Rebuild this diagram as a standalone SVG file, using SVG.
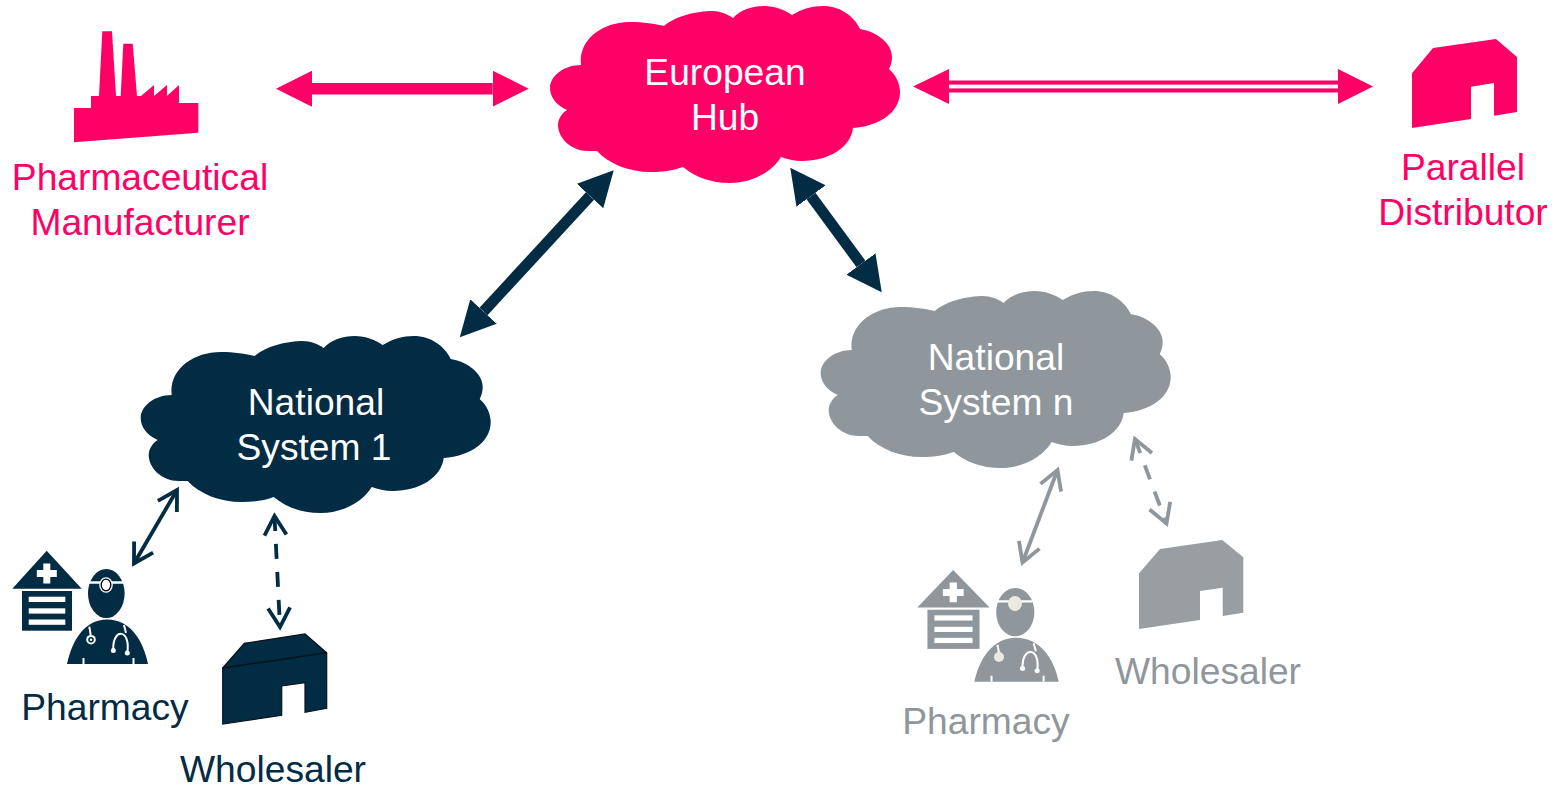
<svg xmlns="http://www.w3.org/2000/svg" width="1558" height="787" viewBox="0 0 1558 787">
<style>
text{font-family:"Liberation Sans",Arial,sans-serif;font-size:37.2px;text-anchor:middle}
.pink{fill:#ff0066}.navy{fill:#022b44}.grey{fill:#8f969c}.white{fill:#fff}
.lgrey{fill:#999ea3}
.thick{stroke:#022b44;stroke-width:11;fill:none}
.thinN{stroke:#022b44;stroke-width:3.8;fill:none}
.thinG{stroke:#8f969c;stroke-width:3.8;fill:none}
.dash{stroke-dasharray:15 13}
.steth{stroke:#fff;stroke-width:2;fill:none}
</style>
<defs>
<path id="cloud" d="M41 65C38 40 62 22 90 22C103 22 115 24 124 26C135 16 158 11 172 11C180 11 187 14 193 18C200 10 212 6 224 6C235 6 245 10 252 15C262 9 272 6 283 6C300 6 314 16 320 29C338 32 352 44 352 57C352 61 351 65 349 69C356 75 360 84 360 92C360 112 340 126 313 128C311 147 289 161 262 161C254 161 247 159 241 157C232 172 212 183 190 183C171 183 155 177 143 167C132 171 122 172 111 172C89 172 69 164 57 151C53 151 50 151 48 151C31 151 18 138 18 125C18 119 22 113 27 110C16 105 10 97 10 88C10 76 24 65 41 65Z"/>
<g id="pharm">
<path d="M12.300 588.700L46.700 550.700L81.700 588.700Z"/>
<rect x="22" y="591" width="50" height="39.700"/>
<path class="white" d="M43.300 563.500h7v6.500h6.500v7h-6.500v6.500h-7v-6.500h-6.500v-7h6.500z"/>
<rect class="white" x="28.700" y="596.700" width="36.600" height="5.300"/>
<rect class="white" x="28.700" y="608.300" width="36.600" height="5.300"/>
<rect class="white" x="28.700" y="619.500" width="36.600" height="5.300"/>
<ellipse cx="106.300" cy="593.500" rx="18.300" ry="24.500"/>
<path class="steth" style="stroke-width:2.400" d="M89 582.500H123"/>
<path d="M67 664C72 640 85 619.500 107 619.500C130 619.500 143 640 148 664Z"/>
<path class="steth" d="M83.500 658V664M133.500 658V664M89.300 626.700L90.700 635M124 625L126 633M113.300 650C112 628 131 628 127.300 653"/>
<circle class="white" cx="113.300" cy="650.500" r="2.500"/>
<circle class="white" cx="127.300" cy="653" r="2.500"/>
</g>
<marker id="hN" markerUnits="userSpaceOnUse" markerWidth="36" markerHeight="36" refX="0" refY="18" orient="auto-start-reverse" viewBox="0 0 36 36"><path class="navy" d="M0 0L35 18L0 36Z"/></marker>
<marker id="hP" markerUnits="userSpaceOnUse" markerWidth="37" markerHeight="37" refX="0" refY="18" orient="auto-start-reverse" viewBox="0 0 37 37"><path class="pink" d="M0 0L36 18L0 36Z"/></marker>
<marker id="oN" markerUnits="userSpaceOnUse" markerWidth="30" markerHeight="30" refX="21" refY="14" orient="auto-start-reverse" viewBox="0 0 30 30"><path d="M2 3L21 14L2 25" stroke="#022b44" stroke-width="3.800" fill="none"/></marker>
<marker id="oG" markerUnits="userSpaceOnUse" markerWidth="30" markerHeight="30" refX="21" refY="14" orient="auto-start-reverse" viewBox="0 0 30 30"><path d="M2 3L21 14L2 25" stroke="#8f969c" stroke-width="3.800" fill="none"/></marker>
</defs>

<g id="connectors">
<line x1="312" y1="88.700" x2="492.700" y2="88.700" stroke="#ff0066" stroke-width="11.500" marker-start="url(#hP)" marker-end="url(#hP)"/>
<path class="pink" d="M949 80.500H1338V92.500H949Z"/>
<rect class="white" x="949" y="84.600" width="389" height="3.800"/>
<path class="pink" d="M913 86.500L949 69V104ZM1373 86.500L1338 69V104Z"/>
<line class="thick" x1="590" y1="196" x2="483.500" y2="311.500" marker-start="url(#hN)" marker-end="url(#hN)"/>
<line class="thick" x1="811" y1="196" x2="861" y2="264" marker-start="url(#hN)" marker-end="url(#hN)"/>
<line class="thinN" x1="177" y1="490" x2="134" y2="563.500" marker-start="url(#oN)" marker-end="url(#oN)"/>
<line class="thinN dash" x1="274.500" y1="516" x2="280" y2="627" marker-start="url(#oN)" marker-end="url(#oN)"/>
<line class="thinG" x1="1057.500" y1="470" x2="1022.500" y2="562.500" marker-start="url(#oG)" marker-end="url(#oG)"/>
<line class="thinG dash" x1="1135" y1="439" x2="1166.500" y2="523.500" marker-start="url(#oG)" marker-end="url(#oG)"/>
</g>

<g id="hub"><use href="#cloud" class="pink" x="540" y="0"/>
<text class="white" x="725" y="85">European</text><text class="white" x="725" y="130">Hub</text></g>

<g id="national-1"><use href="#cloud" class="navy" x="130.700" y="330"/>
<text class="white" x="316" y="415">National</text><text class="white" x="314" y="460">System 1</text></g>

<g id="national-n"><use href="#cloud" class="grey" x="810.700" y="285"/>
<text class="white" x="996" y="370">National</text><text class="white" x="996" y="415">System n</text></g>

<g id="manufacturer">
<path class="pink" d="M74 108H91V96H99L102.300 31.300H112L116 96H120.700L123.300 43.700H132.700L137 96H141L154 85V96L167 85V96L179 85V103H198.300V132.700L74 142.300Z"/>
<text class="pink" x="140" y="190">Pharmaceutical</text><text class="pink" x="140" y="235">Manufacturer</text></g>

<g id="distributor">
<path class="pink" d="M1412 73.300L1433 48L1496 39L1517 57V112L1494 115.700V83L1471 86.700V119L1412 128Z"/>
<text class="pink" x="1463" y="180">Parallel</text><text class="pink" x="1463" y="225">Distributor</text></g>

<g id="pharmacy-1">
<use href="#pharm" class="navy"/>
<ellipse class="white" cx="106" cy="585" rx="6.800" ry="7.800"/>
<ellipse cx="106" cy="585" rx="4.800" ry="5.800" fill="#fff" stroke="#000" stroke-width="1.300"/>
<circle class="white" cx="91" cy="639.700" r="4.800"/>
<circle class="navy" cx="91" cy="639.700" r="2.800"/>
<circle class="white" cx="91" cy="639.700" r="1.200"/>
<text class="navy" x="105" y="720">Pharmacy</text></g>

<g id="wholesaler-1">
<path class="navy" stroke="#08131b" stroke-width="1.200" d="M222.700 668L244.300 643.300L305 634L326.700 652.700V708.300L305 712.300V682.700L281.700 686V715.300L222.700 724Z"/>
<path d="M222.700 668L326.700 652.700" stroke="#08131b" stroke-width="1.500" fill="none"/>
<text class="navy" x="273" y="782">Wholesaler</text></g>

<g id="pharmacy-n">
<use href="#pharm" class="grey" transform="translate(904.500 27) scale(1.042 .986)"/>
<ellipse cx="1015" cy="603.500" rx="7" ry="7.500" fill="#ece9e0"/>
<circle cx="999" cy="657" r="5" fill="#ece9e0"/>
<text class="grey" x="986" y="734">Pharmacy</text></g>

<g id="wholesaler-n">
<path class="lgrey" d="M1139 573.300L1160 549L1222.300 540L1243.300 557.300V612.700L1222.700 616V587.700L1200 591V620L1139 629Z"/>
<text class="grey" x="1208" y="684">Wholesaler</text></g>
</svg>
